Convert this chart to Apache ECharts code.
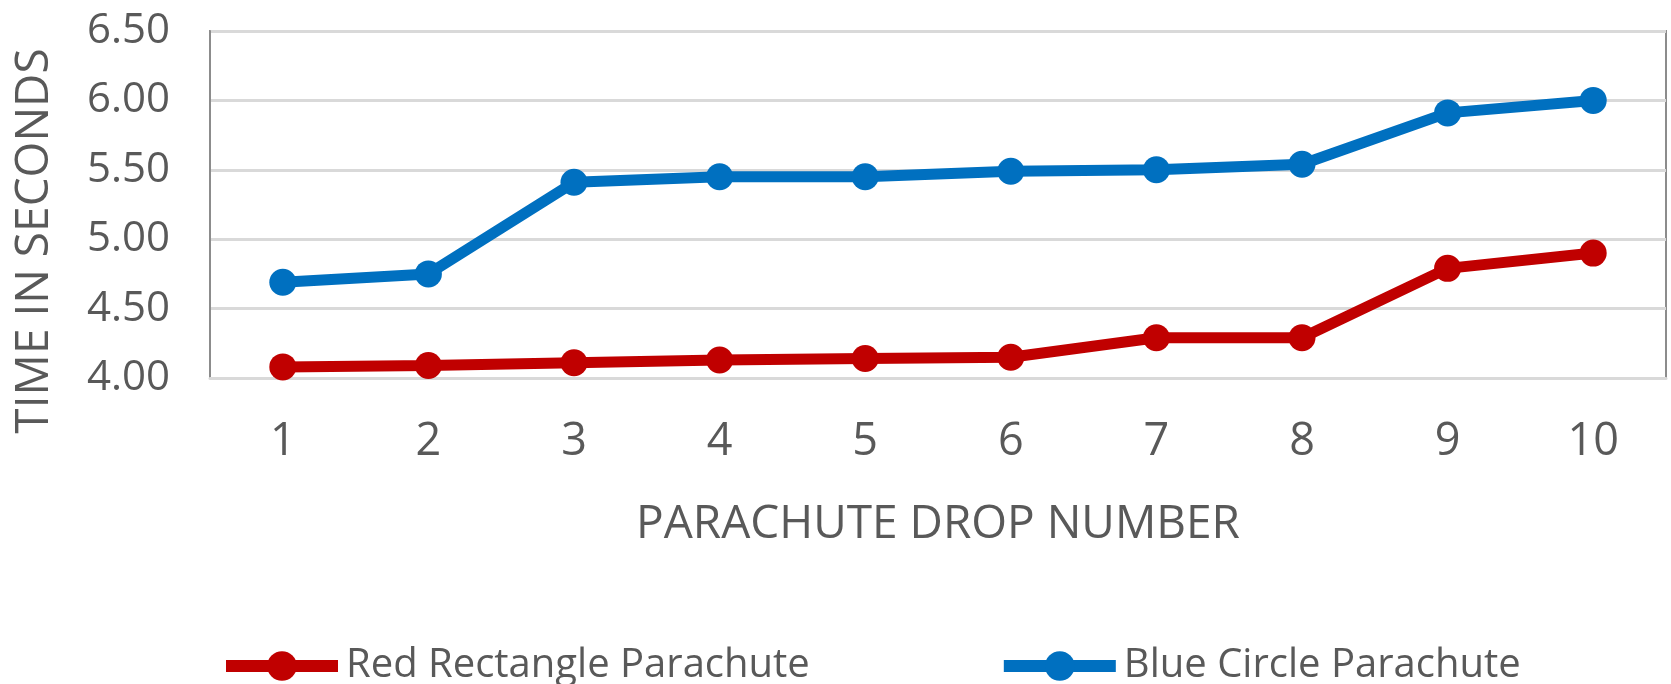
<!DOCTYPE html>
<html>
<head>
<meta charset="utf-8">
<script src="https://cdn.jsdelivr.net/npm/echarts@6/dist/echarts.min.js"></script>
<style>
html,body{margin:0;padding:0;background:#fff;}
#c{width:1671px;height:684px;}
</style>
</head>
<body>
<div id="c"></div>
<script>
const categories = ['1','2','3','4','5','6','7','8','9','10'];
const redValues  = [4.08, 4.09, 4.11, 4.13, 4.14, 4.15, 4.29, 4.29, 4.79, 4.90];
const blueValues = [4.69, 4.75, 5.41, 5.45, 5.45, 5.49, 5.50, 5.54, 5.91, 6.00];
const seriesNames = ['Red Rectangle Parachute', 'Blue Circle Parachute'];
const yTitle = 'TIME IN SECONDS';
const xTitle = 'PARACHUTE DROP NUMBER';

const FONT = 'Open Sans';
const RED = '#c00000', BLUE = '#0070c0';
const chart = echarts.init(document.getElementById('c'), null, {renderer:'canvas'});
chart.setOption({
  animation: false,
  backgroundColor: '#ffffff',
  grid: {
    left: 210, right: 5, top: 31, bottom: 306,
    show: true, borderColor: '#8c8c8c', borderWidth: 2, backgroundColor: 'transparent'
  },
  legend: {
    left: 215, top: 641,
    itemWidth: 112, itemHeight: 37, itemGap: 188,
    lineStyle: {width: 12},
    textStyle: {fontFamily: FONT, fontSize: 40, color: '#595959', padding:[0,0,0,3]},
    data: [
      {name: seriesNames[0], lineStyle: {width: 12, color: RED}, itemStyle: {color: RED}},
      {name: seriesNames[1], lineStyle: {width: 12, color: BLUE}, itemStyle: {color: BLUE}}
    ]
  },
  xAxis: {
    type: 'category',
    data: categories,
    boundaryGap: true,
    axisLine: {show: true, lineStyle: {color: '#d9d9d9', width: 3}},
    axisTick: {show: false},
    axisLabel: {fontFamily: FONT, fontSize: 45, color: '#595959', margin: 42},
    name: xTitle,
    nameLocation: 'middle',
    nameGap: 124,
    nameTextStyle: {fontFamily: FONT, fontSize: 46, color: '#595959'}
  },
  yAxis: {
    type: 'value',
    min: 4, max: 6.5, interval: 0.5,
    axisLine: {show: true, lineStyle: {color: '#8c8c8c', width: 2}},
    axisTick: {show: false},
    splitLine: {show: true, lineStyle: {color: '#d9d9d9', width: 3}},
    axisLabel: {fontFamily: FONT, fontSize: 42, color: '#595959', margin: 40,
      formatter: v => v.toFixed(2)},
    name: yTitle,
    nameLocation: 'middle',
    nameGap: 152,
    nameTextStyle: {fontFamily: FONT, fontSize: 46, color: '#595959', padding: [0, 73, 0, 0]}
  },
  series: [
    {
      name: seriesNames[0], type: 'line', data: redValues,
      symbol: 'circle', symbolSize: 27,
      lineStyle: {color: RED, width: 11},
      itemStyle: {color: RED},
      z: 3
    },
    {
      name: seriesNames[1], type: 'line', data: blueValues,
      symbol: 'circle', symbolSize: 27,
      lineStyle: {color: BLUE, width: 11},
      itemStyle: {color: BLUE},
      z: 3
    }
  ]
});
</script>
</body>
</html>
